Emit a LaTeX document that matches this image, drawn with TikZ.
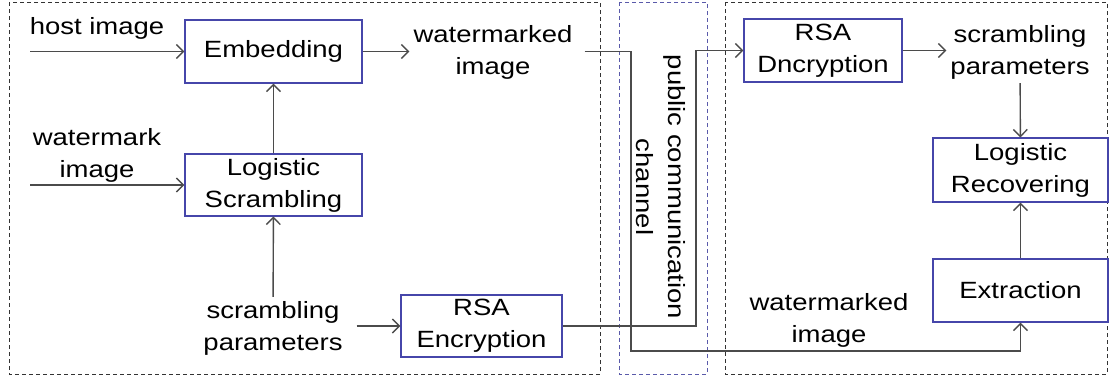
\documentclass[tikz,border=0pt]{standalone}
\usepackage{fontspec}
\setmainfont{Liberation Sans}[FakeStretch=1.17]
\usetikzlibrary{arrows.meta}
\definecolor{boxblue}{RGB}{70,70,170}
\definecolor{chanblue}{RGB}{90,90,170}
\definecolor{linegray}{RGB}{75,75,75}
\tikzset{
  blockbox/.style={draw=boxblue, line width=1.2pt, minimum width=177pt, minimum height=63pt, inner sep=0pt, align=center},
  lbl/.style={align=center, inner sep=4pt},
  flow/.style={draw=linegray, line width=1.4pt, -{Straight Barb[length=7pt,width=14pt]}},
  frame/.style={draw=black!80, line width=1pt, dash pattern=on 4pt off 3pt}
}
\begin{document}
\begin{tikzpicture}[x=1pt,y=-1pt,font=\fontsize{23.5}{32}\selectfont]
\useasboundingbox (0,0) rectangle (1110,383);
% frames: sender, channel, receiver
\draw[frame] (9,2) rectangle (600,374);
\draw[frame, draw=chanblue] (619,2) rectangle (707,374);
\draw[frame] (725,2) rectangle (1107,374);
% sender blocks
\node[blockbox] (emb) at (273.5,51.5) {Embedding};
\node[blockbox, minimum height=62pt] (scr) at (273.5,185) {Logistic\\Scrambling};
\node[blockbox, minimum width=161pt, minimum height=62pt] (enc) at (481.5,326) {RSA\\Encryption};
% receiver blocks
\node[blockbox, minimum width=158pt] (dec) at (823,50.5) {RSA\\Dncryption};
\node[blockbox, minimum width=175pt, minimum height=64pt] (rec) at (1020.5,170) {Logistic\\Recovering};
\node[blockbox, minimum width=175pt] (ext) at (1020.5,290.5) {Extraction};
% labels
\node[lbl] (host) at (97,28) {host image};
\node[lbl] (mark) at (97,155) {watermark\\image};
\node[lbl] (par1) at (273,328) {scrambling\\parameters};
\node[lbl] (wm1) at (493,52) {watermarked\\image};
\node[lbl] (par2) at (1020,52) {scrambling\\parameters};
\node[lbl] (wm2) at (829,320) {watermarked\\image};
\node[lbl, rotate=-90] (chan) at (661,187) {public communication\\channel};
% corners of the channel wires
\coordinate (chA) at (631,351);
\coordinate (chB) at (696,325);
\coordinate (hostIn) at (30,51.5);
\coordinate (markIn) at (30,185);
% arrows
\draw[flow] (hostIn) -- (emb.west);
\draw[flow] (markIn) -- (scr.west);
\draw[flow] (scr) -- (emb);
\draw[flow] (par1) -- (scr);
\draw[flow] ([xshift=10pt]par1.east |- enc.west) -- (enc.west);
\draw[flow] (emb.east) -- (wm1.west |- emb.east);
\draw[flow] ([xshift=8pt]wm1.east |- emb.east) -- (chA |- emb.east) -- (chA) -| (ext.south);
\draw[flow] (enc.east) -- (chB |- enc.east) |- (dec.west);
\draw[flow] (dec.east) -- (par2.west |- dec.east);
\draw[flow] (par2) -- (rec);
\draw[flow] (ext) -- (rec);
\end{tikzpicture}
\end{document}
